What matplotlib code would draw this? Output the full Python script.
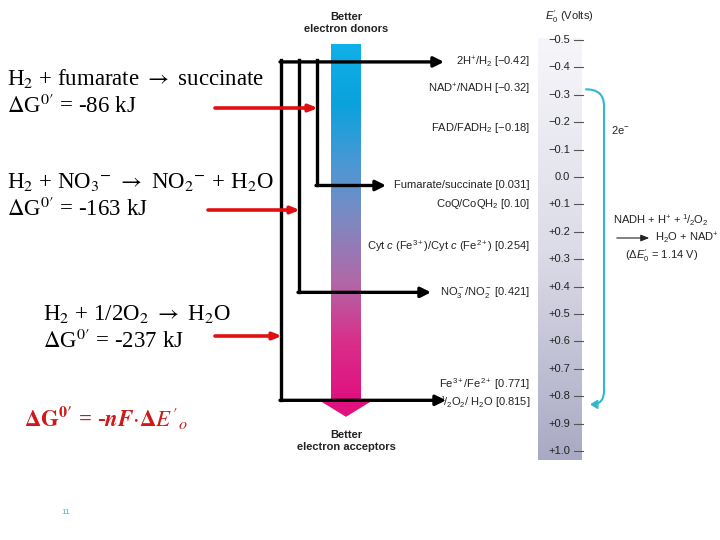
import matplotlib
matplotlib.use("Agg")
import matplotlib.pyplot as plt
import numpy as np
from matplotlib.patches import Polygon, FancyArrowPatch
from matplotlib.path import Path
from matplotlib.colors import LinearSegmentedColormap

couples = [r"2H$^{+}$/H$_2$ [$-$0.42]", r"NAD$^{+}$/NADH [$-$0.32]", r"FAD/FADH$_2$ [$-$0.18]",
           "Fumarate/succinate [0.031]", r"CoQ/CoQH$_2$ [0.10]",
           r"Cyt $c$ (Fe$^{3+}$)/Cyt $c$ (Fe$^{2+}$) [0.254]", r"NO$_3^-$/NO$_2^-$ [0.421]",
           r"Fe$^{3+}$/Fe$^{2+}$ [0.771]", r"$^1\!/_2$O$_2$/ H$_2$O [0.815]"]
potentials = [-0.42, -0.32, -0.18, 0.031, 0.10, 0.254, 0.421, 0.771, 0.815]
scale_values = [-0.5, -0.4, -0.3, -0.2, -0.1, 0.0, 0.1, 0.2, 0.3, 0.4, 0.5, 0.6, 0.7, 0.8, 0.9, 1.0]
scale_labels = ["\u22120.5", "\u22120.4", "\u22120.3", "\u22120.2", "\u22120.1", "0.0", "+0.1", "+0.2",
                "+0.3", "+0.4", "+0.5", "+0.6", "+0.7", "+0.8", "+0.9", "+1.0"]

plt.rcParams["mathtext.fontset"] = "custom"
plt.rcParams["mathtext.rm"] = "Liberation Sans"
plt.rcParams["mathtext.it"] = "Liberation Sans:italic"
plt.rcParams["mathtext.bf"] = "Liberation Sans:bold"

def vy(v):
    return 40 + (v + 0.5) * 274

fig = plt.figure(figsize=(7.2, 5.4), dpi=100)
ax = fig.add_axes([0, 0, 1, 1])
ax.set_xlim(0, 720); ax.set_ylim(540, 0); ax.axis("off")

sans = "Liberation Sans"
fs = 8
# scale panel
grad = np.linspace(0, 1, 200)[:, None]
cm_s = LinearSegmentedColormap.from_list("s", ["#f6f6fa", "#dcdce8", "#a9a9c4"])
ax.imshow(grad, cmap=cm_s, extent=[538, 582, 460, 38], aspect="auto", zorder=1)
for v, lab in zip(scale_values, scale_labels):
    y = vy(v)
    ax.plot([574, 583], [y, y], color="#555555", lw=0.8, zorder=2)
    ax.text(570, y, lab, ha="right", va="center", fontsize=fs, family=sans, color="#222222", zorder=3)
ax.text(545, 17, r"$E_0'$ (Volts)", fontsize=fs, family=sans, va="center", color="#222222")

# gradient arrow
cm_a = LinearSegmentedColormap.from_list("a", ["#10b0e8", "#0aa2dc", "#4a98d4", "#8088c0", "#b068a8", "#d8308a", "#e01080"])
ax.imshow(grad, cmap=cm_a, extent=[331, 361, 400, 44], aspect="auto", zorder=1)
ax.add_patch(Polygon([[320, 400], [372, 400], [346, 416]], closed=True, color="#e0107e", zorder=1))
ax.text(346, 23, "Better\nelectron donors", ha="center", va="center", fontsize=fs, family=sans,
        fontweight="bold", color="#222222", linespacing=1.3)
ax.text(346, 441, "Better\nelectron acceptors", ha="center", va="center", fontsize=fs, family=sans,
        fontweight="bold", color="#222222", linespacing=1.3)

# couple labels
for lab, v in zip(couples, potentials):
    y = vy(v)
    if v == 0.771:
        y -= 4
    if v == 0.815:
        y += 2
    ax.text(530, y, lab, ha="right", va="center", fontsize=fs, family=sans, color="#222222")

# black connection lines
lw = 2.4
def harrow(x0, x1, y):
    ax.annotate("", xy=(x1, y), xytext=(x0 - 1, y),
                arrowprops=dict(arrowstyle="-|>,head_length=0.6,head_width=0.3", color="black", lw=lw,
                                shrinkA=0, shrinkB=0), zorder=4)
ax.plot([281, 281], [60, vy(0.815)], color="black", lw=lw, zorder=4)
ax.plot([299, 299], [60, vy(0.421)], color="black", lw=lw, zorder=4)
ax.plot([317, 317], [60, vy(0.031)], color="black", lw=lw, zorder=4)
harrow(281, 444, vy(-0.42))
harrow(317, 386, vy(0.031))
harrow(299, 431, vy(0.421))
harrow(281, 446, vy(0.815))

# red arrows
def rarrow(x0, x1, y):
    ax.annotate("", xy=(x1, y), xytext=(x0, y),
                arrowprops=dict(arrowstyle="-|>,head_length=0.5,head_width=0.2", color="#e01010", lw=2.6,
                                shrinkA=0, shrinkB=0), zorder=5)
rarrow(215, 318, 108)
rarrow(208, 300, 210)
rarrow(215, 282, 336)

# left equations
eq = dict(fontsize=16.5, family="Liberation Serif", color="black", va="center", math_fontfamily="stix")
ax.text(7, 79, r"H$_2$ + fumarate $\rightarrow$ succinate", **eq)
ax.text(7, 106, r"$\Delta$G$^{0\prime}$ = -86 kJ", **eq)
ax.text(7, 182, r"H$_2$ + NO$_3$$^{-}$ $\rightarrow$ NO$_2$$^{-}$ + H$_2$O", **eq)
ax.text(7, 209, r"$\Delta$G$^{0\prime}$ = -163 kJ", **eq)
ax.text(43, 314, r"H$_2$ + 1/2O$_2$ $\rightarrow$ H$_2$O", **eq)
ax.text(43, 341, r"$\Delta$G$^{0\prime}$ = -237 kJ", **eq)
ax.text(24, 418, r"$\mathbf{\Delta G^{0\prime}}$ = -$\boldsymbol{nF}$$\cdot$$\mathbf{\Delta}$$\boldsymbol{E'_o}$",
        fontsize=16.5, family="Liberation Serif", fontweight="bold", color="#d01818", va="center",
        math_fontfamily="stix")
ax.text(66, 513, "11", fontsize=6, color="#40c0d0", ha="center", va="center", family=sans)

# cyan bracket
cy = "#30b8d0"
p = Path([(586, vy(-0.32)), (604, vy(-0.32)), (604, vy(-0.26)), (604, vy(0.78)), (604, vy(0.83)), (590, vy(0.83))],
         [Path.MOVETO, Path.CURVE3, Path.CURVE3, Path.LINETO, Path.CURVE3, Path.CURVE3])
ax.add_patch(FancyArrowPatch(path=p, arrowstyle="-|>,head_length=4,head_width=2.5", color=cy, lw=1.5, zorder=3))
ax.text(611, 130, r"2e$^{-}$", fontsize=fs, family=sans, va="center", color="#222222")
ax.text(613, 220, r"NADH + H$^{+}$ + $^1\!/_2$O$_2$", fontsize=fs, family=sans, va="center", color="#222222")
ax.annotate("", xy=(652, 238), xytext=(614, 238),
            arrowprops=dict(arrowstyle="-|>,head_length=0.5,head_width=0.2", color="#222222", lw=0.8))
ax.text(655, 238, r"H$_2$O + NAD$^{+}$", fontsize=fs, family=sans, va="center", color="#222222")
ax.text(625, 256, r"($\Delta E_0'$ = 1.14 V)", fontsize=fs, family=sans, va="center", color="#222222")

fig.savefig("out.png", dpi=100)
